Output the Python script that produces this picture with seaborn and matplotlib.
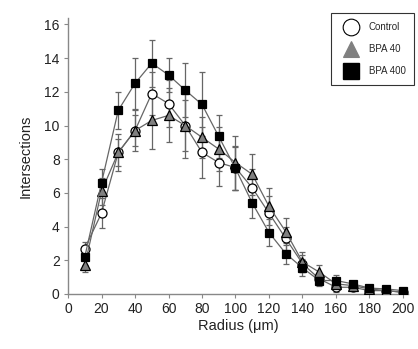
import matplotlib
matplotlib.use("Agg")
import matplotlib.pyplot as plt
import seaborn as sns
import numpy as np
import pandas as pd
from matplotlib.lines import Line2D

radius = [10, 20, 30, 40, 50, 60, 70, 80, 90, 100, 110, 120, 130, 140, 150, 160, 170, 180, 190, 200]

control = [2.7, 4.8, 8.4, 9.7, 11.9, 11.3, 10.0, 8.4, 7.8, 7.5, 6.3, 4.8, 3.3, 1.8, 0.9, 0.4, 0.4, 0.2, 0.2, 0.1]
control_err = [0.4, 0.9, 0.8, 0.9, 1.3, 1.4, 1.9, 1.5, 1.4, 1.3, 1.1, 1.0, 0.7, 0.5, 0.3, 0.3, 0.2, 0.1, 0.1, 0.1]

bpa40 = [1.7, 6.1, 8.4, 9.7, 10.3, 10.6, 10.0, 9.3, 8.6, 7.8, 7.1, 5.2, 3.7, 1.9, 1.3, 0.6, 0.5, 0.3, 0.2, 0.1]
bpa40_err = [0.4, 0.8, 1.1, 1.2, 1.7, 1.6, 1.5, 1.2, 1.3, 1.6, 1.2, 1.1, 0.8, 0.6, 0.4, 0.3, 0.2, 0.1, 0.1, 0.1]

bpa400 = [2.2, 6.6, 10.9, 12.5, 13.7, 13.0, 12.1, 11.25, 9.35, 7.45, 5.4, 3.65, 2.4, 1.55, 0.8, 0.8, 0.6, 0.35, 0.3, 0.2]
bpa400_err = [0.5, 0.8, 1.1, 1.5, 1.4, 1.0, 1.6, 1.9, 1.3, 1.3, 0.9, 0.8, 0.6, 0.5, 0.3, 0.3, 0.2, 0.1, 0.1, 0.1]

labels = ["Control", "BPA 40", "BPA 400"]

sns.set_style("ticks")
plt.rcParams["font.family"] = ["Liberation Sans", "DejaVu Sans"]

fig = plt.figure(figsize=(4.18, 3.49), dpi=100)
ax = fig.add_axes([0.1627, 0.1576, 0.8134, 0.7917])

series = [
    (control, control_err, "o", "white", 6.5),
    (bpa40, bpa40_err, "^", "#808080", 6.5),
    (bpa400, bpa400_err, "s", "black", 6.0),
]

for (vals, errs, mk, fc, ms), lab in zip(series, labels):
    ax.errorbar(radius, vals, yerr=errs, fmt="none", ecolor="#666666",
                elinewidth=0.9, capsize=2, capthick=0.9, zorder=2)
    df = pd.DataFrame({"Radius": radius, "Intersections": vals})
    sns.lineplot(data=df, x="Radius", y="Intersections", ax=ax, color="#666666",
                 linewidth=0.9, marker=mk, markersize=ms,
                 markerfacecolor=fc, markeredgecolor="black", markeredgewidth=0.9,
                 zorder=3, legend=False)

ax.set_xlim(0, 203)
ax.set_ylim(0, 16.4)
ax.set_xticks(np.arange(0, 201, 20))
ax.set_yticks(np.arange(0, 17, 2))
ax.tick_params(axis="both", labelsize=10, length=3, width=0.8, color="#888888",
               labelcolor="#222222", pad=3)
for s in ["top", "right"]:
    ax.spines[s].set_visible(False)
for s in ["left", "bottom"]:
    ax.spines[s].set_color("#888888")
    ax.spines[s].set_linewidth(1.0)
ax.set_xlabel("Radius (\u03bcm)", fontsize=10.5, labelpad=2, color="#222222")
ax.set_ylabel("Intersections", fontsize=10.5, labelpad=8, color="#222222")

handles = [
    Line2D([], [], linestyle="none", marker="o", markersize=12, markerfacecolor="white", markeredgecolor="black", markeredgewidth=0.8),
    Line2D([], [], linestyle="none", marker="^", markersize=12, markerfacecolor="#808080", markeredgecolor="#808080", markeredgewidth=0.8),
    Line2D([], [], linestyle="none", marker="s", markersize=11, markerfacecolor="black", markeredgecolor="black"),
]
leg = fig.legend(handles, labels, loc="upper right", bbox_to_anchor=(0.991, 0.962),
                 fontsize=7, frameon=True, fancybox=False, edgecolor="black",
                 labelspacing=1.25, handletextpad=0.6, borderpad=0.9, handlelength=2.4,
                 borderaxespad=0)
leg.get_frame().set_linewidth(0.8)

fig.savefig("out.png", dpi=100)
